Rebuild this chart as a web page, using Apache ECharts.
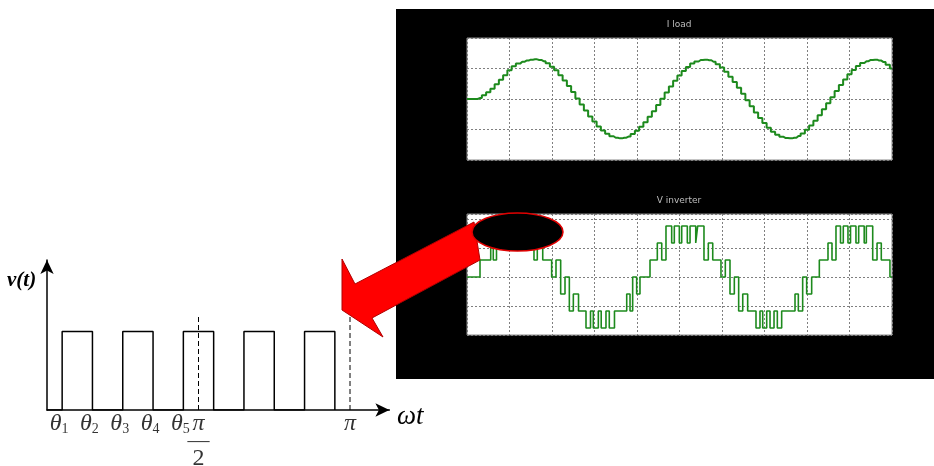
<!DOCTYPE html>
<html>
<head>
<meta charset="utf-8">
<script src="https://cdn.jsdelivr.net/npm/echarts@6/dist/echarts.min.js"></script>
<style>
html, body { margin: 0; padding: 0; background: #fff; }
#main { width: 934px; height: 466px; }
</style>
</head>
<body>
<div id="main"></div>
<script>
// 左图: 脉冲 v(t), 横轴以 π 为单位
var pulseStart = [0.05, 0.25, 0.45, 0.65, 0.85];
var pulseEnd = [0.15, 0.35, 0.55, 0.75, 0.95];
var pulseHeight = 1;
var dashAngles = [0.5, 1];
var dashHeight = 1.2;
var thetaAngles = [0.05, 0.15, 0.25, 0.35, 0.45];
var thetaIndex = ['1', '2', '3', '4', '5'];

// 示波器 I load, 每 0.5 ms 一个采样
var loadStep = 0.5;
var loadValues = [0, 0, 0, 0.03, 0.12, 0.22, 0.34, 0.48, 0.63, 0.78, 0.94, 1.07, 1.16, 1.22, 1.26, 1.29, 1.30,
    1.28, 1.24, 1.17, 1.06, 0.94, 0.78, 0.61, 0.43, 0.23, 0.02, -0.18, -0.38, -0.57, -0.74, -0.90, -1.03, -1.14, -1.22, -1.27, -1.29,
    -1.27, -1.23, -1.15, -1.04, -0.91, -0.76, -0.58, -0.40, -0.20, 0.01, 0.21, 0.41, 0.60, 0.77, 0.92, 1.05, 1.16, 1.23, 1.28, 1.29,
    1.27, 1.22, 1.14, 1.03, 0.89, 0.73, 0.56, 0.37, 0.17, -0.04, -0.24, -0.44, -0.62, -0.79, -0.94, -1.07, -1.17, -1.24, -1.28, -1.29,
    -1.27, -1.21, -1.13, -1.01, -0.87, -0.71, -0.53, -0.34, -0.14, 0.06, 0.26, 0.46, 0.64, 0.81, 0.95, 1.08, 1.18, 1.24, 1.28, 1.29,
    1.26, 1.21, 1.12, 1.00];

// 示波器 V inverter: 切换时刻(ms) 与电平数
var invTimes = [0, 1.53, 2.79, 3.09, 3.47, 4.26, 4.56, 5.15, 5.44, 6.09, 6.41, 7.08, 7.32, 7.88, 8.27, 8.91,
    9.96, 10.47, 11.02, 11.53, 12.04, 12.51, 13.12, 14.0, 14.53, 14.86, 15.45, 15.79, 16.35, 16.74, 17.35, 18.79, 19.18, 19.49, 19.96,
    20.35, 21.53, 22.39, 22.91, 23.41, 24.08, 24.39, 24.98, 25.26, 25.92, 26.24, 26.91, 27.14, 27.88, 28.39, 28.91,
    29.88, 30.39, 30.94, 31.45, 31.96, 32.44, 33.02, 34.0, 34.47, 34.79, 35.26, 35.65, 36.12, 36.51, 37.02, 38.59, 38.98, 39.49, 39.96,
    40.55, 41.45, 42.47, 42.94, 43.41, 43.94, 44.27, 44.82, 45.12, 45.76, 46.08, 46.73, 46.98, 47.73, 48.24, 48.74, 49.76, 50];
var invLevels = [0, 1, 2, 1, 3, 2, 3, 2, 3, 2, 3, 2, 3, 1, 2, 1,
    0, 1, -1, 0, -2, -1, -2, -3, -2, -3, -2, -3, -2, -3, -2, -1, -2, 0, -1,
    0, 1, 2, 1, 3, 2, 3, 2, 3, 2, 3, 2, 3, 1, 2, 1,
    0, 1, -1, 0, -2, -1, -2, -3, -2, -3, -2, -3, -2, -3, -2, -1, -2, 0, -1,
    0, 1, 2, 1, 3, 2, 3, 2, 3, 2, 3, 2, 3, 1, 2, 1, 0, 0];
var levelStep = 0.586;

var serif = 'Liberation Serif';
var scopeGreen = '#1d8a1d';

var pulseData = [[0, 0]];
for (var i = 0; i < pulseStart.length; i++) {
    pulseData.push([pulseStart[i], 0], [pulseStart[i], pulseHeight], [pulseEnd[i], pulseHeight], [pulseEnd[i], 0]);
}
var loadData = loadValues.map(function (v, i) { return [i * loadStep, v]; });
var invData = invTimes.map(function (t, i) { return [t, invLevels[i] * levelStep]; });

var chart = echarts.init(document.getElementById('main'));

var scopeSplit = { show: true, lineStyle: { color: '#7f7f7f', type: [2, 2], width: 1 } };

var option = {
    animation: false,
    backgroundColor: '#fff',
    grid: [
        { left: 47, top: 260, width: 342.4, height: 150, show: false },
        { left: 467, top: 38, width: 425, height: 122, show: true, backgroundColor: '#fff', borderColor: '#8a8a8a', borderWidth: 1 },
        { left: 467, top: 214, width: 425, height: 121, show: true, backgroundColor: '#fff', borderColor: '#8a8a8a', borderWidth: 1 }
    ],
    xAxis: [
        {
            gridIndex: 0, type: 'value', min: 0, max: 1.13,
            axisLine: { show: true, onZero: false, symbol: ['none', 'arrow'], symbolSize: [10, 14], lineStyle: { color: '#000', width: 1.5 } },
            axisTick: { show: false }, axisLabel: { show: false }, splitLine: { show: false }
        },
        {
            gridIndex: 1, type: 'value', min: 0, max: 50, interval: 5,
            axisLine: { show: false }, axisTick: { show: false }, axisLabel: { show: false }, splitLine: scopeSplit
        },
        {
            gridIndex: 2, type: 'value', min: 0, max: 50, interval: 5,
            axisLine: { show: false }, axisTick: { show: false }, axisLabel: { show: false }, splitLine: scopeSplit
        }
    ],
    yAxis: [
        {
            gridIndex: 0, type: 'value', min: 0, max: 1.91,
            axisLine: { show: true, onZero: false, symbol: ['none', 'arrow'], symbolSize: [10, 14], lineStyle: { color: '#000', width: 1.5 } },
            axisTick: { show: false }, axisLabel: { show: false }, splitLine: { show: false }
        },
        {
            gridIndex: 1, type: 'value', min: -2, max: 2, interval: 1,
            axisLine: { show: false }, axisTick: { show: false }, axisLabel: { show: false }, splitLine: scopeSplit
        },
        {
            gridIndex: 2, type: 'value', min: -2, max: 2.17, interval: 1,
            axisLine: { show: false }, axisTick: { show: false }, axisLabel: { show: false }, splitLine: scopeSplit
        }
    ],
    series: [
        {
            name: 'v(t)', type: 'line', xAxisIndex: 0, yAxisIndex: 0, data: pulseData,
            symbol: 'none', lineStyle: { color: '#000', width: 1.5 }
        },
        {
            name: 'dash', type: 'line', xAxisIndex: 0, yAxisIndex: 0,
            data: [[dashAngles[0], 0], [dashAngles[0], dashHeight]],
            symbol: 'none', lineStyle: { color: '#000', width: 1, type: [5, 3] }
        },
        {
            name: 'dash2', type: 'line', xAxisIndex: 0, yAxisIndex: 0,
            data: [[dashAngles[1], 0], [dashAngles[1], dashHeight]],
            symbol: 'none', lineStyle: { color: '#000', width: 1, type: [5, 3] }
        },
        {
            name: 'theta', type: 'scatter', xAxisIndex: 0, yAxisIndex: 0,
            data: thetaAngles.map(function (a) { return [a, 0]; }),
            symbolSize: 0,
            label: {
                show: true, position: 'bottom', distance: 2, offset: [-3, 0],
                formatter: function (p) { return '{t|θ}{s|' + thetaIndex[p.dataIndex] + '}'; },
                rich: {
                    t: { fontFamily: serif, fontStyle: 'italic', fontSize: 24, color: '#000', lineHeight: 24 },
                    s: { fontFamily: serif, fontSize: 14, color: '#000', verticalAlign: 'bottom', lineHeight: 24, padding: [8, 0, 0, 0] }
                }
            }
        },
        {
            name: 'pi', type: 'scatter', xAxisIndex: 0, yAxisIndex: 0,
            data: [[dashAngles[0], 0, 'half'], [dashAngles[1], 0, 'full']],
            symbolSize: 0,
            label: {
                show: true, position: 'bottom', distance: 2,
                formatter: function (p) {
                    return p.data[2] === 'half' ? '{p|π}\n{b|—}\n{d|2}' : '{p|π}';
                },
                rich: {
                    p: { fontFamily: serif, fontStyle: 'italic', fontSize: 24, color: '#000', lineHeight: 24, align: 'center' },
                    b: { fontFamily: serif, fontSize: 22, color: '#000', lineHeight: 10, align: 'center' },
                    d: { fontFamily: serif, fontSize: 24, color: '#000', lineHeight: 26, align: 'center' }
                }
            }
        },
        {
            name: 'I load', type: 'line', xAxisIndex: 1, yAxisIndex: 1, data: loadData,
            step: 'middle', symbol: 'none', lineStyle: { color: scopeGreen, width: 2 }
        },
        {
            name: 'V inverter', type: 'line', xAxisIndex: 2, yAxisIndex: 2, data: invData,
            step: 'end', symbol: 'none', lineStyle: { color: scopeGreen, width: 1.6 }
        }
    ],
    graphic: [
        { type: 'rect', z: -10, shape: { x: 396, y: 9, width: 538, height: 370 }, style: { fill: '#000' } },
        { type: 'text', z: 10, style: { x: 679, y: 25, text: 'I load', fill: '#bdbdbd', font: '9px "DejaVu Sans"', textAlign: 'center', textVerticalAlign: 'middle' } },
        { type: 'text', z: 10, style: { x: 679, y: 201, text: 'V inverter', fill: '#bdbdbd', font: '9px "DejaVu Sans"', textAlign: 'center', textVerticalAlign: 'middle' } },
        { type: 'text', z: 10, style: { x: 7, y: 281, text: 'v(t)', fill: '#000', font: 'italic bold 21px "Liberation Serif"', textVerticalAlign: 'middle' } },
        { type: 'text', z: 10, style: { x: 397, y: 417, text: 'ωt', fill: '#000', font: 'italic 27px "Liberation Serif"', textVerticalAlign: 'middle' } },
        {
            type: 'polygon', z: 100,
            shape: { points: [[474, 222], [355, 284], [342, 259], [342, 310], [383, 337], [372, 318], [480, 260]] },
            style: { fill: '#ff0000', stroke: '#b00000', lineWidth: 1 }
        },
        {
            type: 'ellipse', z: 101,
            shape: { cx: 517.5, cy: 232, rx: 45.5, ry: 19 },
            style: { fill: '#000', stroke: '#e00000', lineWidth: 1.5 }
        }
    ]
};
chart.setOption(option);
</script>
</body>
</html>
